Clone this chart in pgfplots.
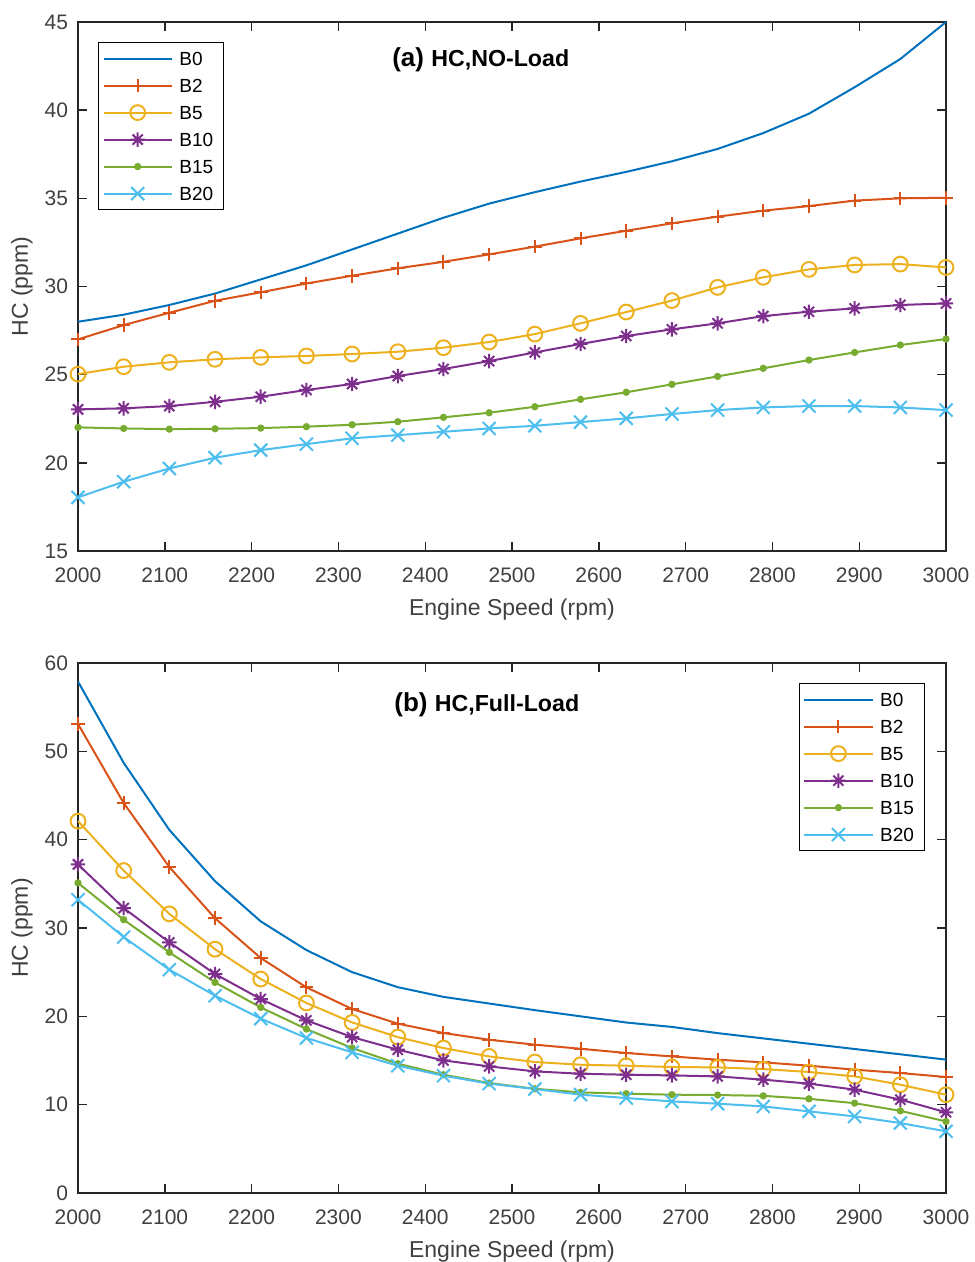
\documentclass[border=0pt]{standalone}
\usepackage{fontspec}
\setmainfont{Liberation Sans}
\usepackage{pgfplots}
\usepackage{pgfplotstable}
\pgfplotsset{compat=1.18}

\definecolor{c1}{rgb}{0,0.447,0.741}
\definecolor{c2}{rgb}{0.85,0.325,0.098}
\definecolor{c3}{rgb}{0.929,0.694,0.125}
\definecolor{c4}{rgb}{0.494,0.184,0.556}
\definecolor{c5}{rgb}{0.466,0.674,0.188}
\definecolor{c6}{rgb}{0.301,0.745,0.933}

\pgfdeclareplotmark{ast8}{%
  \pgfpathmoveto{\pgfqpoint{-\pgfplotmarksize}{0pt}}\pgfpathlineto{\pgfqpoint{\pgfplotmarksize}{0pt}}%
  \pgfpathmoveto{\pgfqpoint{0pt}{-\pgfplotmarksize}}\pgfpathlineto{\pgfqpoint{0pt}{\pgfplotmarksize}}%
  \pgfpathmoveto{\pgfqpoint{-.707\pgfplotmarksize}{-.707\pgfplotmarksize}}\pgfpathlineto{\pgfqpoint{.707\pgfplotmarksize}{.707\pgfplotmarksize}}%
  \pgfpathmoveto{\pgfqpoint{-.707\pgfplotmarksize}{.707\pgfplotmarksize}}\pgfpathlineto{\pgfqpoint{.707\pgfplotmarksize}{-.707\pgfplotmarksize}}%
  \pgfusepathqstroke}

\pgfplotstableread{
rpm     B0    B2    B5     B10    B15    B20
2000    28.0  27.0  25.03  23.03  22.01  18.04
2052.63 28.4  27.81 25.45  23.09  21.95  18.93
2105.26 28.95 28.51 25.70  23.22  21.91  19.68
2157.89 29.6  29.19 25.87  23.46  21.93  20.29
2210.53 30.4  29.67 25.98  23.75  21.97  20.72
2263.16 31.2  30.17 26.06  24.13  22.05  21.06
2315.79 32.1  30.61 26.17  24.47  22.16  21.39
2368.42 33.0  31.03 26.30  24.92  22.33  21.57
2421.05 33.9  31.40 26.53  25.32  22.58  21.76
2473.68 34.7  31.82 26.85  25.77  22.84  21.95
2526.32 35.35 32.26 27.30  26.26  23.18  22.10
2578.95 35.95 32.73 27.91  26.74  23.60  22.31
2631.58 36.5  33.16 28.55  27.19  24.00  22.52
2684.21 37.1  33.58 29.20  27.57  24.45  22.77
2736.84 37.8  33.96 29.95  27.91  24.90  22.99
2789.47 38.7  34.30 30.52  28.32  25.36  23.14
2842.11 39.8  34.56 30.97  28.57  25.83  23.22
2894.74 41.3  34.87 31.22  28.76  26.26  23.22
2947.37 42.9  35.00 31.27  28.95  26.68  23.14
3000    45.0  35.03 31.08  29.04  27.02  22.99
}\topdata

\pgfplotstableread{
rpm     B0    B2    B5    B10   B15   B20
2000    57.9  53.1  42.1  37.2  35.1  33.2
2052.63 48.7  44.15 36.5  32.26 30.94 28.98
2105.26 41.1  36.9  31.6  28.37 27.24 25.28
2157.89 35.3  31.1  27.6  24.79 23.84 22.34
2210.53 30.75 26.6  24.22 21.96 21.01 19.74
2263.16 27.5  23.28 21.51 19.54 18.56 17.55
2315.79 25.0  20.83 19.31 17.65 16.41 15.92
2368.42 23.3  19.17 17.65 16.22 14.64 14.41
2421.05 22.2  18.11 16.41 15.01 13.39 13.28
2473.68 21.45 17.35 15.46 14.33 12.45 12.38
2526.32 20.7  16.79 14.83 13.77 11.8  11.77
2578.95 20.0  16.33 14.52 13.5  11.39 11.13
2631.58 19.3  15.85 14.41 13.39 11.24 10.75
2684.21 18.8  15.46 14.26 13.31 11.13 10.37
2736.84 18.1  15.09 14.22 13.2  11.09 10.11
2789.47 17.5  14.79 14.03 12.83 11.0  9.8
2842.11 16.9  14.41 13.7  12.38 10.66 9.24
2894.74 16.3  13.96 13.2  11.7  10.17 8.67
2947.37 15.7  13.58 12.26 10.57 9.3   7.92
3000    15.1  13.13 11.13 9.14  8.1   6.98
}\botdata

\pgfplotsset{
  hcstyle/.style={
    scale only axis, width=434pt,
    xmin=2000, xmax=3000,
    xtick={2000,2100,...,3000},
    tick align=inside, tick pos=both, major tick length=4.5pt,
    axis line style={draw=black!85, line width=0.7pt},
    every tick/.style={black!85, line width=0.7pt},
    tick label style={font=\fontsize{10.5}{12}\selectfont, text=black!75},
    /pgf/number format/assume math mode=true,
    /pgf/number format/1000 sep={},
    xticklabel style={yshift=-5pt},
    yticklabel style={xshift=-1.5pt},
    xlabel={Engine Speed (rpm)}, ylabel={HC (ppm)},
    label style={font=\fontsize{11.5}{13}\selectfont, text=black!75},
    xlabel style={at={(axis description cs:0.5,-0.11)}, anchor=center},
    ylabel style={at={(axis description cs:-0.0645,0.5)}, anchor=center},
    legend cell align=left,
    legend style={draw=black, line width=0.6pt, font=\fontsize{9.5}{11}\selectfont,
      inner xsep=2pt, inner ysep=1.2pt, row sep=0pt,
      nodes={inner sep=3.3pt, text height=6.9pt, text depth=0pt}},
    legend image code/.code={\draw[mark repeat=2,mark phase=2] plot coordinates {(0cm,0cm) (0.6cm,0cm) (1.2cm,0cm)};},
  },
  sB0/.style={c1, line width=1pt, mark=none},
  sB2/.style={c2, line width=1pt, mark=+, mark size=3.4pt},
  sB5/.style={c3, line width=1pt, mark=o, mark size=3.7pt},
  sB10/.style={c4, line width=1pt, mark=ast8, mark size=3.6pt},
  sB15/.style={c5, line width=1pt, mark=*, mark size=1.3pt},
  sB20/.style={c6, line width=1pt, mark=x, mark size=4.6pt},
}

\begin{document}
\begin{tikzpicture}
\path[use as bounding box] (0,0) rectangle (487pt,631pt);
\begin{axis}[hcstyle, at={(39pt,355.5pt)}, anchor=south west, height=264.5pt,
  ymin=15, ymax=45, ytick={15,20,...,45},
  legend style={at={(rel axis cs:0.023,0.962)}, anchor=north west}]
\addplot[sB0] table[x=rpm,y=B0]{\topdata};
\addplot[sB2] table[x=rpm,y=B2]{\topdata};
\addplot[sB5] table[x=rpm,y=B5]{\topdata};
\addplot[sB10] table[x=rpm,y=B10]{\topdata};
\addplot[sB15] table[x=rpm,y=B15]{\topdata};
\addplot[sB20] table[x=rpm,y=B20]{\topdata};
\legend{B0,B2,B5,B10,B15,B20}
\node[anchor=center] at (rel axis cs:0.464,0.928) {\bfseries\fontsize{13}{15}\selectfont (a) \fontsize{11.6}{14}\selectfont HC,NO-Load};
\end{axis}
\begin{axis}[hcstyle, at={(39pt,34.5pt)}, anchor=south west, height=265pt,
  ymin=0, ymax=60, ytick={0,10,...,60},
  legend style={at={(rel axis cs:0.976,0.962)}, anchor=north east}]
\addplot[sB0] table[x=rpm,y=B0]{\botdata};
\addplot[sB2] table[x=rpm,y=B2]{\botdata};
\addplot[sB5] table[x=rpm,y=B5]{\botdata};
\addplot[sB10] table[x=rpm,y=B10]{\botdata};
\addplot[sB15] table[x=rpm,y=B15]{\botdata};
\addplot[sB20] table[x=rpm,y=B20]{\botdata};
\legend{B0,B2,B5,B10,B15,B20}
\node[anchor=center] at (rel axis cs:0.471,0.921) {\bfseries\fontsize{13}{15}\selectfont (b) \fontsize{11.6}{14}\selectfont HC,Full-Load};
\end{axis}
\end{tikzpicture}
\end{document}
